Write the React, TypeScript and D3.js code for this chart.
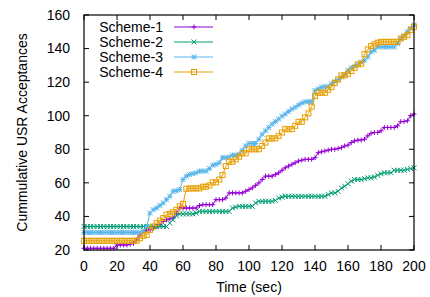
import * as d3 from "d3";

// sample times, every 2 s from 0 to 200
const times: number[] = d3.range(0, 201, 2);

const scheme1: number[] = [
  21, 21, 21, 21, 21, 21, 21, 21, 21, 21,
  23, 23, 23, 23, 23.5, 24, 26, 29, 31, 32,
  32, 33, 34, 35, 37, 38, 38.5, 39, 42, 45,
  45, 45, 45, 45, 45, 46.5, 47, 47, 47, 47,
  50, 50, 50, 51, 54, 54, 54, 54, 54, 55,
  56, 57, 58.5, 60, 62, 64, 64, 64, 65, 66,
  67.5, 69, 70, 71, 72, 73, 73.5, 74, 74, 74,
  75, 78, 78.5, 79, 79.5, 80, 80, 80.5, 81, 82,
  82.5, 84, 85, 85.5, 85.5, 86, 88, 89.5, 90, 90,
  91, 93, 93, 93, 93, 94, 96.5, 96.5, 97, 100,
  101,
];

const scheme2: number[] = [
  34, 34, 34, 34, 34, 34, 34, 34, 34, 34,
  34, 34, 34, 34, 34, 34, 34, 34, 34, 34,
  34, 34, 34, 34, 34, 34, 36, 38, 40.5, 41.5,
  41.5, 41.5, 41.5, 41.5, 42, 43, 43, 43, 43, 43,
  43, 43, 43, 43, 43, 45, 45.5, 46, 46, 46,
  46, 46, 48, 49, 49, 49, 49, 49, 49.5, 51,
  51.5, 52, 52, 52, 52, 52, 52, 52, 52, 52,
  52, 52, 52, 52, 53, 54, 54, 55, 57, 58,
  59.5, 61, 62, 62, 62, 62.5, 63, 63, 63.5, 64.5,
  65.5, 66, 66, 66, 67.5, 67.5, 67.5, 67.5, 68, 68.5,
  69,
];

const scheme3: number[] = [
  30.5, 30.5, 30.5, 30.5, 30.5, 30.5, 30.5, 30.5, 30.5, 30.5,
  30.5, 30.5, 30.5, 30.5, 30.5, 30.5, 30.5, 30.5, 31, 34,
  42, 44, 45, 46.5, 48, 50, 52, 55, 55.3, 56,
  62, 64, 65, 65.5, 66, 67, 67, 67, 68.5, 70.5,
  71, 72, 75, 75, 75.5, 76.5, 76.5, 77, 79.5, 82,
  83.5, 83.5, 83.5, 86, 89, 91, 93, 95, 96.5, 98,
  99.8, 101, 102.5, 104, 105, 106.4, 107.5, 108.3, 108.3, 108.3,
  115, 116, 117, 117.3, 117.3, 119, 120.3, 121.5, 123, 124.2,
  127, 128.5, 129.5, 130.5, 132, 133, 135, 138, 139, 141,
  141, 141, 141, 141, 141, 143, 146, 147.6, 150, 152,
  154,
];

const scheme4: number[] = [
  25.5, 25.5, 25.5, 25.5, 25.5, 25.5, 25.5, 25.5, 25.5, 25.5,
  25.5, 25.5, 25.5, 25.5, 25.5, 25.5, 25.5, 27, 28.5, 29,
  32, 34, 36, 37.5, 39, 41, 41.5, 42.5, 44, 46,
  47.5, 56.5, 56.7, 56.7, 56.7, 56.7, 57.7, 57.7, 58.5, 60.3,
  60.3, 62, 64.7, 70, 72.6, 72.6, 74, 75.6, 77.6, 77.6,
  80, 80, 80, 80, 82, 84, 86.5, 86.5, 86.5, 88,
  90, 92, 92, 92, 94, 96.4, 96.4, 99, 101.4, 105.4,
  111.7, 113.7, 113.7, 113.7, 115.5, 117, 119.5, 121.6, 124, 124,
  125, 126.6, 128.5, 130.6, 131, 136.6, 139.5, 141.5, 142.5, 143.5,
  144, 144, 144, 144, 144, 144, 146, 147, 148, 151,
  153,
];

const seriesNames = ["Scheme-1", "Scheme-2", "Scheme-3", "Scheme-4"];
const seriesValues = [scheme1, scheme2, scheme3, scheme4];
const seriesColors = ["#9400d3", "#009e73", "#56b4e9", "#e69f00"];
const seriesMarks = ["plus", "cross", "star", "square"];

const xTicks = [0, 20, 40, 60, 80, 100, 120, 140, 160, 180, 200];
const yTicks = [20, 40, 60, 80, 100, 120, 140, 160];

const W = 430;
const H = 297;
const margin = { top: 15, right: 16, bottom: 47, left: 84 };
const FONT = "'Liberation Sans', Arial, sans-serif";

function Marker({ kind, x, y, color }: { kind: string; x: number; y: number; color: string }) {
  const s = 2.5;
  if (kind === "square") {
    return (
      <rect x={x - s} y={y - s} width={2 * s} height={2 * s} fill="none" stroke={color} strokeWidth={1} />
    );
  }
  let d = "";
  if (kind === "plus" || kind === "star") d += `M${x - s},${y}H${x + s}M${x},${y - s}V${y + s}`;
  if (kind === "cross" || kind === "star") d += `M${x - s},${y - s}L${x + s},${y + s}M${x - s},${y + s}L${x + s},${y - s}`;
  return <path d={d} stroke={color} strokeWidth={1} fill="none" />;
}

export default function App() {
  const x = d3.scaleLinear().domain([0, 200]).range([margin.left, W - margin.right]);
  const y = d3.scaleLinear().domain([20, 160]).range([H - margin.bottom, margin.top]);

  const line = d3
    .line<number>()
    .x((_, i) => x(times[i]))
    .y((d) => y(d));

  const x0 = x.range()[0];
  const x1 = x.range()[1];
  const y0 = y.range()[0];
  const y1 = y.range()[1];
  const tick = 5;

  return (
    <svg
      width={W}
      height={H}
      style={{ position: "absolute", left: 0, top: 0, background: "white" }}
      fontFamily={FONT}
    >
      {/* ticks, mirrored and pointing inwards */}
      {xTicks.map((t) => (
        <g key={"xt" + t}>
          <line x1={x(t)} x2={x(t)} y1={y0} y2={y0 - tick} stroke="black" />
          <line x1={x(t)} x2={x(t)} y1={y1} y2={y1 + tick} stroke="black" />
          <text x={x(t)} y={y0 + 21} fontSize={14} textAnchor="middle">
            {t}
          </text>
        </g>
      ))}
      {yTicks.map((t) => (
        <g key={"yt" + t}>
          <line x1={x0} x2={x0 + tick} y1={y(t)} y2={y(t)} stroke="black" />
          <line x1={x1} x2={x1 - tick} y1={y(t)} y2={y(t)} stroke="black" />
          <text x={x0 - 14} y={y(t)} dy="0.35em" fontSize={14} textAnchor="end">
            {t}
          </text>
        </g>
      ))}

      {seriesValues.map((vals, si) => (
        <g key={seriesNames[si]}>
          <path d={line(vals) || ""} fill="none" stroke={seriesColors[si]} strokeWidth={1} />
          {vals.map((v, i) => (
            <Marker key={i} kind={seriesMarks[si]} x={x(times[i])} y={y(v)} color={seriesColors[si]} />
          ))}
        </g>
      ))}

      <rect x={x0} y={y1} width={x1 - x0} height={y0 - y1} fill="none" stroke="black" strokeWidth={1.2} />

      {/* legend */}
      {seriesNames.map((name, i) => {
        const ly = 27 + i * 15;
        return (
          <g key={"lg" + name}>
            <text x={163} y={ly} dy="0.35em" fontSize={14} textAnchor="end">
              {name}
            </text>
            <line x1={174} x2={213} y1={ly} y2={ly} stroke={seriesColors[i]} strokeWidth={1} />
            <Marker kind={seriesMarks[i]} x={194} y={ly} color={seriesColors[i]} />
          </g>
        );
      })}

      <text x={(x0 + x1) / 2} y={292} fontSize={14} textAnchor="middle">
        Time (sec)
      </text>
      <text
        transform={`translate(27,${(y0 + y1) / 2}) rotate(-90)`}
        fontSize={14}
        textAnchor="middle"
      >
        Cummulative USR Acceptances
      </text>
    </svg>
  );
}
